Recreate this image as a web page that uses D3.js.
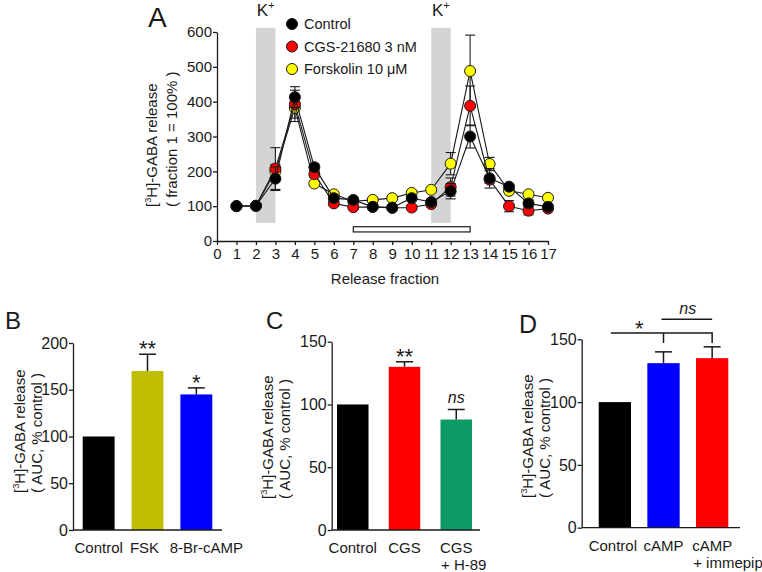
<!DOCTYPE html>
<html><head><meta charset="utf-8">
<script src="https://cdn.jsdelivr.net/npm/d3@7"></script>
<style>body{margin:0;background:#fff}svg{display:block;font-family:Arial,"Liberation Sans",Helvetica,sans-serif}</style>
</head><body><svg id="c" width="762" height="572"></svg>
<script>
// ---------- Panel A data ----------
const fractions = [1,2,3,4,5,6,7,8,9,10,11,12,13,14,15,16,17];
const controlVals = [100,101,179,413,212,123,118,98,96,123,112,143,300,180,156,108,98];
const controlErr  = [0,2,34,30,10,8,5,5,5,8,5,22,33,28,8,10,6];
const cgsVals     = [100,101,208,393,192,108,97,98,95,96,106,155,388,176,100,87,93];
const cgsErr      = [0,3,60,40,10,8,5,5,5,5,5,26,57,10,16,12,6];
const fskVals     = [100,101,200,382,165,134,114,118,123,138,147,222,488,221,144,134,124];
const fskErr      = [0,3,20,39,8,6,5,5,5,5,5,32,103,19,8,6,5];
const seriesNames  = ["Control","CGS-21680 3 nM","Forskolin 10 μM"];
const seriesColors = ["#000000","#ff0000","#ffff00"];
const xTicksA = [0,1,2,3,4,5,6,7,8,9,10,11,12,13,14,15,16,17];
const yTicksA = [0,100,200,300,400,500,600];
const kBands = [[2,3],[11,12]];
const drugBar = [7,13];

// ---------- Panel B ----------
const bCats = [["Control"],["FSK"],["8-Br-cAMP"]];
const bVals = [100,170,145];
const bErr  = [0,18,7];
const bSig  = ["","**","*"];
const bColors = ["#000000","#bfbd00","#0000ff"];
const bTicks = [0,50,100,150,200];

// ---------- Panel C ----------
const cCats = [["Control"],["CGS"],["CGS","+ H-89"]];
const cVals = [100,130,88];
const cErr  = [0,4,8];
const cSig  = ["","**","ns"];
const cColors = ["#000000","#ff0000","#0d9a65"];
const cTicks = [0,50,100,150];

// ---------- Panel D ----------
const dCats = [["Control"],["cAMP"],["cAMP","+ immepip"]];
const dVals = [100,131,135];
const dErr  = [0,9,9];
const dSig  = ["","",""];
const dColors = ["#000000","#0000ff","#ff0000"];
const dTicks = [0,50,100,150];

const svg = d3.select("#c");
const INK = "#1a1a1a";

function styleAxis(g, fs){
  g.selectAll(".domain").attr("stroke",INK).attr("stroke-width",1.3);
  g.selectAll(".tick line").attr("stroke",INK).attr("stroke-width",1.3);
  g.selectAll(".tick text").attr("fill",INK).style("font-size",fs+"px").style("font-family","Arial, 'Liberation Sans', sans-serif");
}

function yLabel(x, y, dy, line2, fs){
  const g = svg.append("g").attr("transform",`translate(${x},${y}) rotate(-90)`)
    .style("font-size",fs+"px").attr("fill",INK);
  const t = g.append("text").attr("text-anchor","start");
  t.append("tspan").text("[");
  t.append("tspan").text("3").style("font-size",(fs*0.62)+"px").attr("dy",-fs*0.42);
  t.append("tspan").text("H]-GABA release").attr("dy",fs*0.42);
  g.append("text").attr("y",dy).attr("text-anchor","start").text(line2);
}

function letter(txt,x,y,fs){
  svg.append("text").attr("x",x).attr("y",y).text(txt).style("font-size",fs+"px").attr("fill",INK);
}

// ================= Panel A =================
const xA = d3.scaleLinear().domain([0,17]).range([217,548]);
const yA = d3.scaleLinear().domain([0,600]).range([241,32]);

svg.append("g").selectAll("rect").data(kBands).join("rect")
  .attr("x",d=>xA(d[0])).attr("width",d=>xA(d[1])-xA(d[0]))
  .attr("y",yA(612)).attr("height",yA(52)-yA(612)).attr("fill","#d4d4d4");

kBands.forEach(b=>{
  const t = svg.append("text").attr("x",(xA(b[0])+xA(b[1]))/2).attr("y",16)
    .attr("text-anchor","middle").style("font-size","17px").attr("fill",INK);
  t.append("tspan").text("K");
  t.append("tspan").text("+").style("font-size","11px").attr("dy",-7);
});

svg.append("rect").attr("x",xA(drugBar[0])).attr("width",xA(drugBar[1])-xA(drugBar[0]))
  .attr("y",yA(41)).attr("height",yA(26)-yA(41)).attr("fill","#fff").attr("stroke",INK).attr("stroke-width",1.2);

const gxA = svg.append("g").attr("transform",`translate(0,${yA(0)})`)
  .call(d3.axisBottom(xA).tickValues(xTicksA).tickSize(4).tickSizeOuter(0).tickPadding(3).tickFormat(d3.format("d")));
styleAxis(gxA,15);
const gyA = svg.append("g").attr("transform",`translate(${xA(0)},0)`)
  .call(d3.axisLeft(yA).tickValues(yTicksA).tickSize(4).tickSizeOuter(0).tickPadding(1));
styleAxis(gyA,15);

svg.append("text").attr("x",385).attr("y",284).attr("text-anchor","middle")
  .style("font-size","15px").attr("fill",INK).text("Release fraction");
yLabel(157,207,20,"( fraction 1 = 100% )",15);
letter("A",148,27,28);

const series = [
  {vals:controlVals, err:controlErr, color:seriesColors[0]},
  {vals:cgsVals, err:cgsErr, color:seriesColors[1]},
  {vals:fskVals, err:fskErr, color:seriesColors[2]}
];
const line = d3.line().x(d=>xA(d.f)).y(d=>yA(d.v));
[2,1,0].forEach(i=>{
  const s = series[i];
  const pts = fractions.map((f,j)=>({f, v:s.vals[j], e:s.err[j]}));
  const g = svg.append("g");
  const eb = g.selectAll(".eb").data(pts.filter(p=>p.e>0)).join("g");
  eb.append("line").attr("x1",p=>xA(p.f)).attr("x2",p=>xA(p.f))
    .attr("y1",p=>yA(p.v-p.e)).attr("y2",p=>yA(p.v+p.e)).attr("stroke",INK).attr("stroke-width",1.1);
  [1,-1].forEach(sg=>{
    eb.append("line").attr("x1",p=>xA(p.f)-5).attr("x2",p=>xA(p.f)+5)
      .attr("y1",p=>yA(p.v+sg*p.e)).attr("y2",p=>yA(p.v+sg*p.e)).attr("stroke",INK).attr("stroke-width",1.1);
  });
  g.append("path").datum(pts).attr("d",line).attr("fill","none").attr("stroke",INK).attr("stroke-width",1.1);
  g.selectAll("circle").data(pts).join("circle")
    .attr("cx",p=>xA(p.f)).attr("cy",p=>yA(p.v)).attr("r",5.5)
    .attr("fill",s.color).attr("stroke",INK).attr("stroke-width",1);
});

// legend
const lg = svg.append("g");
seriesNames.forEach((n,i)=>{
  const cy = 24 + i*22.5;
  lg.append("circle").attr("cx",292).attr("cy",cy).attr("r",5.5).attr("fill",seriesColors[i]).attr("stroke",INK).attr("stroke-width",1);
  lg.append("text").attr("x",304).attr("y",cy+5).style("font-size","14.5px").attr("fill",INK).text(n);
});

// ================= Bar panels =================
function barPanel(o){
  const y = d3.scaleLinear().domain([0,o.yMax]).range(o.yRange);
  const x = d3.scaleBand().domain(o.cats.map((c,i)=>i)).range(o.barRange).paddingInner(o.pad).paddingOuter(0);
  const g = svg.append("g");
  g.selectAll("rect").data(o.vals).join("rect")
    .attr("x",(d,i)=>x(i)).attr("width",x.bandwidth())
    .attr("y",d=>y(d)).attr("height",d=>y(0)-y(d)).attr("fill",(d,i)=>o.colors[i]);
  // error bars (upward)
  o.vals.forEach((v,i)=>{
    if(!o.errs[i]) return;
    const cx = x(i)+x.bandwidth()/2;
    g.append("line").attr("x1",cx).attr("x2",cx).attr("y1",y(v)).attr("y2",y(v+o.errs[i])).attr("stroke",INK).attr("stroke-width",1.5);
    g.append("line").attr("x1",cx-8.5).attr("x2",cx+8.5).attr("y1",y(v+o.errs[i])).attr("y2",y(v+o.errs[i])).attr("stroke",INK).attr("stroke-width",1.5);
    const s = o.sigs[i];
    if(s){
      const ns = s==="ns";
      g.append("text").attr("x",cx).attr("y",y(v+o.errs[i])+(ns?-6:2)).attr("text-anchor","middle")
        .style("font-size",ns?"16px":"22px").style("font-style",ns?"italic":"normal").attr("fill",INK).text(s);
    }
  });
  // axes
  const gy = g.append("g").attr("transform",`translate(${o.axisX},0)`)
    .call(d3.axisLeft(y).tickValues(o.ticks).tickSize(4).tickSizeOuter(0).tickPadding(1));
  styleAxis(gy,16);
  g.append("line").attr("x1",o.axisX).attr("x2",o.axisEnd).attr("y1",y(0)).attr("y2",y(0)).attr("stroke",INK).attr("stroke-width",1.3);
  // category labels
  o.cats.forEach((lines,i)=>{
    const cx = x(i)+x.bandwidth()/2 + (o.labelShift ? o.labelShift[i] : 0);
    const t1 = g.append("text").attr("x",cx).attr("y",y(0)+23).attr("text-anchor","middle")
      .style("font-size","15px").attr("fill",INK).text(lines[0]);
    if(lines[1]){
      const w = t1.node().getComputedTextLength();
      g.append("text").attr("x",cx-w/2+1).attr("y",y(0)+40).attr("text-anchor","start")
        .style("font-size","15px").attr("fill",INK).text(lines[1]);
    }
  });
  return {x,y,g};
}

const pB = barPanel({cats:bCats, vals:bVals, errs:bErr, sigs:bSig, colors:bColors, ticks:bTicks,
  yMax:200, yRange:[530,343], axisX:73, axisEnd:222, barRange:[82.7,212.3], pad:0.347, labelShift:[0,-3,10]});
yLabel(25,493,17,"( AUC, % control )",15);
letter("B",5,329,24);

const pC = barPanel({cats:cCats, vals:cVals, errs:cErr, sigs:cSig, colors:cColors, ticks:cTicks,
  yMax:150, yRange:[530,341.7], axisX:331.7, axisEnd:480, barRange:[337,472], pad:0.391});
yLabel(273,499,17,"( AUC, % control )",15);
letter("C",266,329,24);

const pD = barPanel({cats:dCats, vals:dVals, errs:dErr, sigs:dSig, colors:dColors, ticks:dTicks,
  yMax:150, yRange:[527.7,339.3], axisX:581.7, axisEnd:740, barRange:[598.7,728.3], pad:0.336, labelShift:[-2,0,0]});
yLabel(533,498,17,"( AUC, % control )",15);
letter("D",519,333,25);

// D significance brackets
{
  const {x,y,g} = pD;
  const c = i => x(i)+x.bandwidth()/2;
  const starY = y(155), tickB = y(147), nsY = y(166);
  g.append("path").attr("d",`M${c(0)-4},${starY}H${c(2)}V${tickB}M${c(1)},${starY}V${tickB}`)
    .attr("fill","none").attr("stroke",INK).attr("stroke-width",1.5);
  g.append("text").attr("x",(c(0)+c(1))/2).attr("y",starY+3).attr("text-anchor","middle")
    .style("font-size","22px").attr("fill",INK).text("*");
  g.append("line").attr("x1",c(1)-2).attr("x2",c(2)).attr("y1",nsY).attr("y2",nsY).attr("stroke",INK).attr("stroke-width",1.5);
  g.append("text").attr("x",(c(1)+c(2))/2).attr("y",nsY-5.5).attr("text-anchor","middle")
    .style("font-size","16px").style("font-style","italic").attr("fill",INK).text("ns");
}
</script></body></html>
